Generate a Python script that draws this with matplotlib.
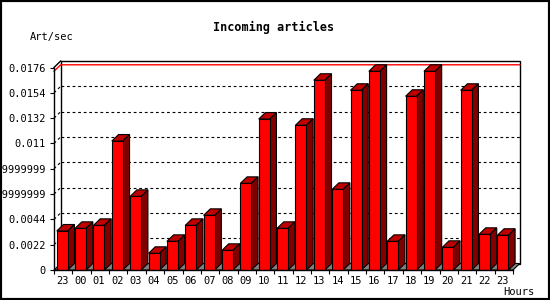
import matplotlib
matplotlib.use('Agg')
import matplotlib.pyplot as plt
import matplotlib.patches as mpatches
import numpy as np

# hourly incoming articles rate (art/sec), first bar is yesterday's 23h
hours = ['23', '00', '01', '02', '03', '04', '05', '06', '07', '08', '09', '10',
         '11', '12', '13', '14', '15', '16', '17', '18', '19', '20', '21', '22', '23']
rate = [0.00339, 0.00362, 0.00388, 0.01121, 0.00640, 0.00145, 0.00249, 0.00388,
        0.00475, 0.00171, 0.00753, 0.01312, 0.00362, 0.01258, 0.01649, 0.00701,
        0.01562, 0.01727, 0.00249, 0.01510, 0.01727, 0.00197, 0.01562, 0.00310,
        0.00302]
y_ticks = [0, 0.0022, 0.0044, 0.0066, 0.0088, 0.011, 0.0132, 0.0154, 0.0176]
y_labels = ['0', '0.0022', '0.0044', '0.0065999999999999', '0.0087999999999999',
            '0.011', '0.0132', '0.0154', '0.0176']

W, H = 550, 300
mono = 'DejaVu Sans Mono'
n = len(hours)
ymax = y_ticks[-1]

fig = plt.figure(figsize=(W / 100, H / 100), dpi=100)
ax = fig.add_axes([54 / W, 30 / H, 459 / W, 202.5 / H])
ax.set_xlim(0, n)
ax.set_ylim(0, ymax)
ax.patch.set_visible(False)

# 3d depth offset (pixels) converted to data units
inv = ax.transData.inverted()
ox, oy = ax.transData.transform((0, 0))
ddx, ddy = inv.transform((ox + 6.7, oy + 6.5))

# back wall + floor
ax.add_patch(mpatches.Rectangle((ddx, ddy), n, ymax, fc='white', ec='black',
                                lw=1, zorder=0.5, clip_on=False))
ax.add_patch(mpatches.Polygon([(0, 0), (n, 0), (n + ddx, ddy), (ddx, ddy)],
                              fc='#808080', ec='black', lw=0.8, zorder=1, clip_on=False))
ax.plot([0, ddx], [ymax, ymax + ddy], color='black', lw=1, zorder=1, clip_on=False)

# dotted grid on the back wall
for v in y_ticks[1:-1]:
    ax.plot([ddx, n + ddx], [v + ddy, v + ddy], color='black', lw=0.8,
            ls=(0, (2.5, 2.5)), zorder=0.8, clip_on=False)
    ax.plot([0, ddx], [v, v + ddy], color='black', lw=0.8,
            ls=(0, (2.5, 2.5)), zorder=0.8, clip_on=False)

# max line
vmax = max(rate)
ax.plot([0, ddx, n + ddx], [vmax, vmax + ddy, vmax + ddy], color='red', lw=1,
        zorder=0.9, clip_on=False)

# bars
bw = 0.6
lefts = np.arange(n) + 0.15
ax.bar(lefts, rate, width=bw, align='edge', color='#ff0000', edgecolor='black',
       linewidth=0.8, zorder=3)
for x0, v in zip(lefts, rate):
    x1 = x0 + bw
    top = [(x0, v), (x1, v), (x1 + ddx, v + ddy), (x0 + ddx, v + ddy)]
    side = [(x1, 0), (x1 + ddx, ddy), (x1 + ddx, v + ddy), (x1, v)]
    ax.add_patch(mpatches.Polygon(top, fc='#c00000', ec='black', lw=0.8,
                                  zorder=2.9, clip_on=False))
    ax.add_patch(mpatches.Polygon(side, fc='#800000', ec='black', lw=0.8,
                                  zorder=2.9, clip_on=False))

for s in ['top', 'right']:
    ax.spines[s].set_visible(False)
for s in ['left', 'bottom']:
    ax.spines[s].set_linewidth(1)
    ax.spines[s].set_zorder(4)

ax.set_yticks(y_ticks)
ax.set_yticklabels(y_labels, fontfamily=mono, fontsize=7.5)
ax.set_xticks(np.arange(n + 1))
ax.set_xticklabels([])
ax.set_xticks(lefts + bw / 2, minor=True)
ax.set_xticklabels(hours, minor=True, fontfamily=mono, fontsize=7.5)
ax.tick_params(axis='both', which='major', direction='out', length=3, width=0.8, pad=3)
ax.tick_params(axis='x', which='minor', length=0, pad=4)

fig.text(273.5 / W, 1 - 27 / H, 'Incoming articles', ha='center', va='center',
         fontfamily=mono, fontweight='bold', fontsize=8.5)
fig.text(30 / W, 1 - 37 / H, 'Art/sec', ha='left', va='center',
         fontfamily=mono, fontsize=7.5)
fig.text(534 / W, 1 - 292 / H, 'Hours', ha='right', va='center',
         fontfamily=mono, fontsize=7.5)

fig.patches.append(mpatches.Rectangle((0, 0), 1, 1, transform=fig.transFigure,
                                      fill=False, ec='black', lw=3))

fig.savefig('out.png', dpi=100)
